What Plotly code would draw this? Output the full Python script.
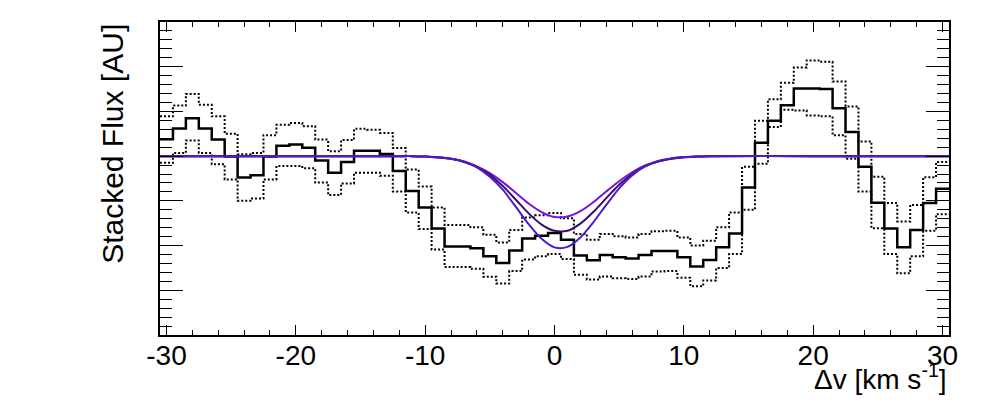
import plotly.graph_objects as go

# ---- data ----
centers = list(range(-30, 31))

flux = [4.38, 4.62, 4.85, 4.62, 4.37, 3.99, 3.52, 3.57, 3.99, 4.23,
        4.26, 4.19, 3.90, 3.63, 3.87, 4.12, 4.12, 4.05, 3.67, 3.22,
        2.85, 2.38, 1.98, 1.98, 1.94, 1.76, 1.61, 1.89, 2.16, 2.22,
        2.28, 2.13, 1.78, 1.67, 1.79, 1.74, 1.71, 1.79, 1.88, 1.88,
        1.74, 1.53, 1.68, 1.96, 2.27, 3.30, 4.30, 4.79, 5.14, 5.51,
        5.51, 5.50, 5.07, 4.54, 3.76, 2.96, 2.38, 1.96, 2.35, 2.95,
        3.27]

flux_hi = [4.89, 5.13, 5.39, 5.15, 4.89, 4.50, 4.04, 4.07, 4.47, 4.70,
           4.74, 4.67, 4.37, 4.11, 4.36, 4.61, 4.59, 4.52, 4.18, 3.70,
           3.32, 2.85, 2.46, 2.46, 2.41, 2.24, 2.07, 2.35, 2.63, 2.68,
           2.73, 2.61, 2.26, 2.13, 2.26, 2.21, 2.18, 2.26, 2.32, 2.33,
           2.18, 2.00, 2.11, 2.41, 2.74, 3.76, 4.79, 5.27, 5.64, 5.98,
           6.14, 6.11, 5.67, 5.11, 4.33, 3.54, 2.95, 2.54, 2.91, 3.53,
           3.87]

flux_lo = [3.85, 4.07, 4.35, 4.07, 3.82, 3.48, 3.00, 3.05, 3.48, 3.78,
           3.78, 3.73, 3.41, 3.13, 3.39, 3.63, 3.63, 3.56, 3.21, 2.74,
           2.37, 1.91, 1.52, 1.52, 1.48, 1.30, 1.15, 1.43, 1.69, 1.76,
           1.81, 1.70, 1.35, 1.24, 1.31, 1.27, 1.25, 1.31, 1.42, 1.43,
           1.28, 1.09, 1.22, 1.50, 1.81, 2.80, 3.83, 4.65, 5.04, 5.02,
           4.91, 4.89, 4.47, 3.94, 3.21, 2.39, 1.81, 1.38, 1.76, 2.33,
           2.70]

model_x = [-30.5, -20, -12, -11, -10, -9, -8, -7, -6, -5, -4, -3, -2, -1, 0,
           1, 2, 3, 4, 5, 6, 7, 8, 9, 10, 11, 12, 20, 30.5]
model_light = [4.00, 4.00, 4.00, 4.00, 3.99, 3.97, 3.94, 3.88, 3.77, 3.62, 3.42, 3.18, 2.94, 2.75, 2.64,
               2.65, 2.77, 2.97, 3.21, 3.44, 3.64, 3.79, 3.88, 3.94, 3.97, 3.99, 4.00, 4.00, 4.00]
model_dark = [4.00, 4.00, 4.00, 4.00, 3.99, 3.97, 3.94, 3.87, 3.76, 3.58, 3.33, 3.03, 2.72, 2.47, 2.33,
              2.33, 2.49, 2.75, 3.06, 3.36, 3.60, 3.77, 3.88, 3.94, 3.98, 3.99, 4.00, 4.00, 4.00]
model_blue = [4.00, 4.00, 4.00, 4.00, 3.99, 3.98, 3.94, 3.88, 3.75, 3.54, 3.25, 2.87, 2.48, 2.15, 1.96,
              1.97, 2.18, 2.52, 2.91, 3.28, 3.57, 3.77, 3.89, 3.95, 3.98, 3.99, 4.00, 4.00, 4.00]

x_ticks = [-30, -20, -10, 0, 10, 20, 30]
x_ticktext = ["-30", "-20", "-10", "0", "10", "20", "30"]

# ---- build step histograms from bin centres ----
edges = [c - 0.5 for c in centers] + [centers[-1] + 0.5]


def step(vals):
    return vals + [vals[-1]]


fig = go.Figure()

fig.add_trace(go.Scatter(x=edges, y=step(flux_hi), mode="lines", line_shape="hv",
                         line=dict(color="black", width=2, dash="2px,2px"),
                         hoverinfo="skip", showlegend=False))
fig.add_trace(go.Scatter(x=edges, y=step(flux_lo), mode="lines", line_shape="hv",
                         line=dict(color="black", width=2, dash="2px,2px"),
                         hoverinfo="skip", showlegend=False))
fig.add_trace(go.Scatter(x=edges, y=step(flux), mode="lines", line_shape="hv",
                         line=dict(color="black", width=2.5),
                         hoverinfo="skip", showlegend=False))

for vals, col in [(model_light, "#7a12e0"), (model_dark, "#3c0c6c"), (model_blue, "#4a1ec4")]:
    fig.add_trace(go.Scatter(x=model_x, y=vals, mode="lines",
                             line=dict(color=col, width=2, shape="spline", smoothing=0.8),
                             hoverinfo="skip", showlegend=False))

font_family = "Liberation Sans, Arial, sans-serif"

# the page body adds an 8px offset; margins compensate for it
fig.update_layout(
    width=1000, height=400, autosize=False,
    margin=dict(l=152, r=59, t=12, b=73),
    paper_bgcolor="white", plot_bgcolor="white",
    font=dict(family=font_family, color="black"),
    xaxis=dict(range=[-30.5, 30.5], tickmode="array", tickvals=x_ticks, ticktext=x_ticktext,
               ticks="inside", ticklen=10, tickwidth=1, tickcolor="black",
               minor=dict(dtick=2, tick0=0, ticks="inside", ticklen=5, tickwidth=1, tickcolor="black"),
               showline=True, linecolor="black", linewidth=2, mirror="allticks",
               showgrid=False, zeroline=False, ticklabelstandoff=-6,
               tickfont=dict(family=font_family, size=28, color="black")),
    yaxis=dict(range=[0, 7], dtick=1, tick0=0,
               ticks="inside", ticklen=23, tickwidth=1, tickcolor="black",
               minor=dict(dtick=0.2, tick0=0, ticks="inside", ticklen=12, tickwidth=1, tickcolor="black"),
               showticklabels=False,
               showline=True, linecolor="black", linewidth=2, mirror="allticks",
               showgrid=False, zeroline=False),
    annotations=[
        dict(text="Δv [km s<sup>-1</sup>]", xref="paper", yref="paper", x=1.0, y=-0.135,
             xanchor="right", yanchor="middle", showarrow=False,
             font=dict(family=font_family, size=28, color="black")),
        dict(text="Stacked Flux [AU]", xref="paper", yref="paper", x=-0.061, y=1.0,
             xanchor="center", yanchor="top", textangle=-90, showarrow=False,
             font=dict(family=font_family, size=30, color="black")),
    ],
)

fig.write_html("out.html")
